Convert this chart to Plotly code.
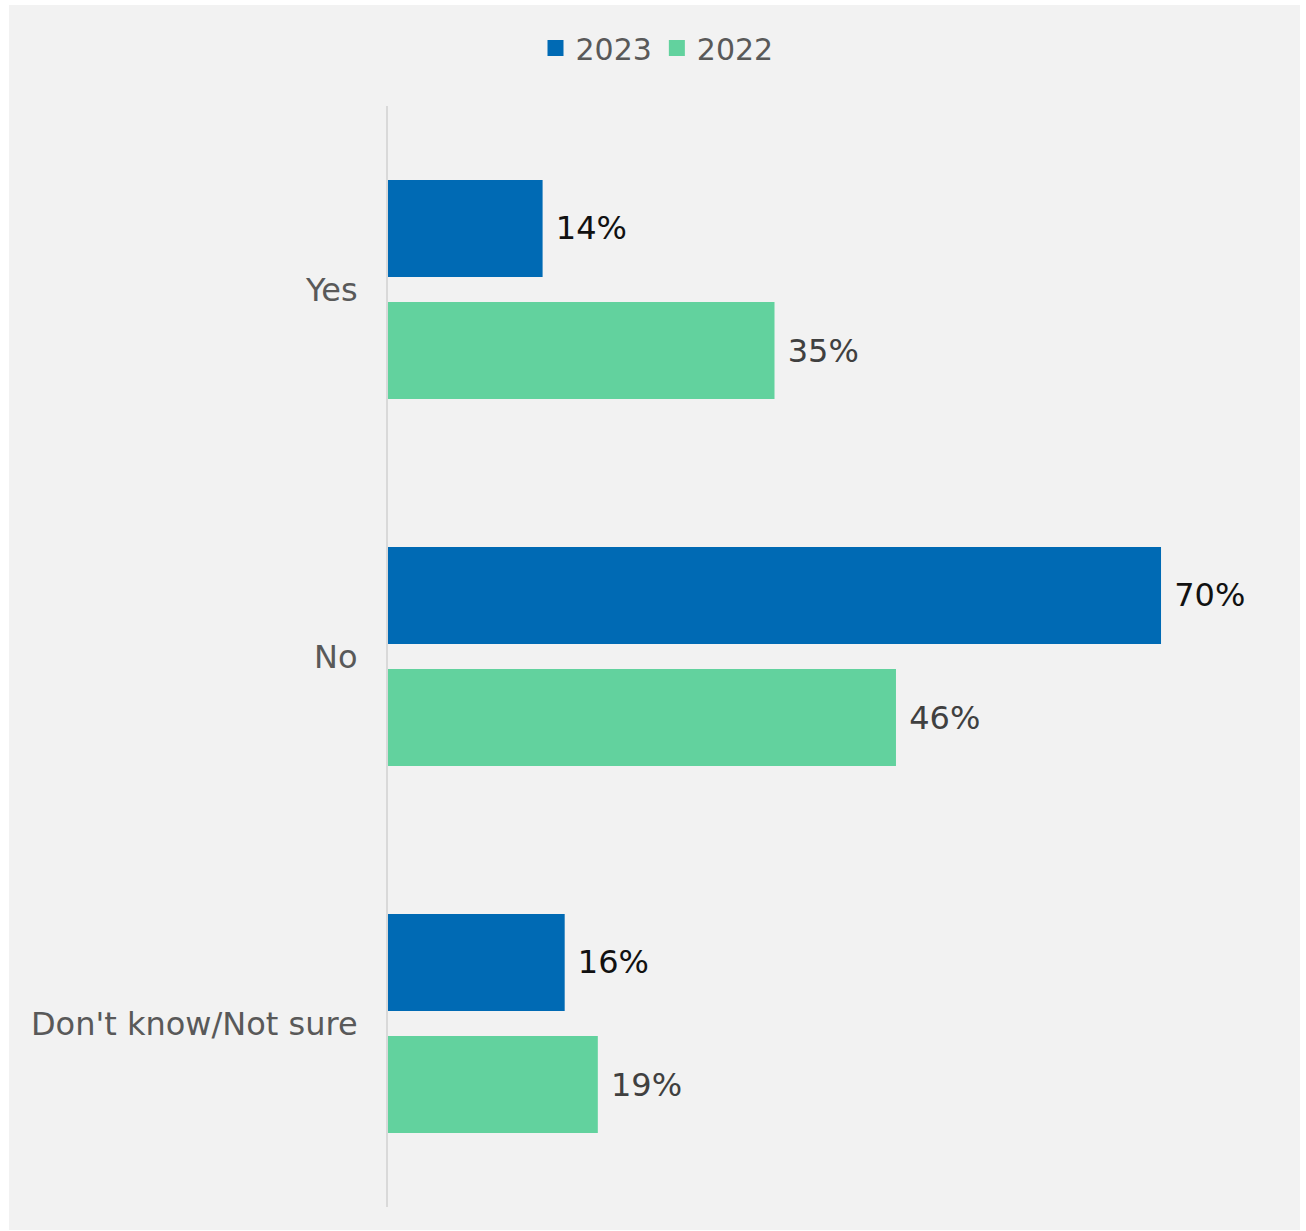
import plotly.graph_objects as go

# Survey answers and the share of respondents per year (in %)
categories = ["Yes", "No", "Don't know/Not sure"]
series_names = ["2023", "2022"]
values_2023 = [14, 70, 16]
values_2022 = [35, 46, 19]

bar_colors = {"2023": "#006ab4", "2022": "#62d29e"}
label_colors = {"2023": "#111111", "2022": "#404040"}

FONT = "DejaVu Sans"
W, H = 1306, 1231
M_L, M_R, M_T, M_B = 388, 34, 106, 24
plot_w = W - M_L - M_R
plot_h = H - M_T - M_B

fig = go.Figure()
for name, vals in zip(series_names, [values_2023, values_2022]):
    fig.add_trace(go.Bar(
        name=name,
        y=categories,
        x=vals,
        orientation="h",
        marker=dict(color=bar_colors[name], line=dict(width=0)),
        text=[f"{v}%" for v in vals],
        texttemplate="\u00a0%{text}",
        textposition="outside",
        constraintext="none",
        cliponaxis=False,
        textfont=dict(family=FONT, size=32, color=label_colors[name]),
        hoverinfo="skip",
        showlegend=False,
    ))

# legend keys: larger square swatches than the default bar icons
for name in series_names:
    fig.add_trace(go.Scatter(
        name=name,
        x=[None], y=[None],
        mode="markers",
        marker=dict(symbol="square", size=19, color=bar_colors[name]),
        hoverinfo="skip",
        showlegend=True,
    ))


def px_to_paper_x(px):
    return (px - M_L) / plot_w


def px_to_paper_y(py):
    return (H - M_B - py) / plot_h


# light grey card behind the chart
fig.add_shape(
    type="rect", xref="paper", yref="paper", layer="below",
    x0=px_to_paper_x(9), x1=px_to_paper_x(1300),
    y0=px_to_paper_y(1230), y1=px_to_paper_y(5),
    fillcolor="#f2f2f2", line=dict(width=0),
)

fig.update_layout(
    width=W, height=H,
    margin=dict(l=M_L, r=M_R, t=M_T, b=M_B, autoexpand=False),
    paper_bgcolor="#ffffff",
    plot_bgcolor="rgba(0,0,0,0)",
    barmode="group",
    bargap=0.335,
    bargroupgap=0.205,
    font=dict(family=FONT, size=32, color="#595959"),
    showlegend=True,
    legend=dict(
        orientation="h",
        x=px_to_paper_x(657), xanchor="center",
        y=px_to_paper_y(48), yanchor="middle",
        font=dict(family=FONT, size=30, color="#595959"),
        bgcolor="rgba(0,0,0,0)",
        traceorder="normal",
        itemsizing="trace",
        itemclick=False, itemdoubleclick=False,
    ),
    xaxis=dict(
        range=[0, 80.05],
        showgrid=False, zeroline=False, showline=False,
        showticklabels=False, ticks="",
    ),
    yaxis=dict(
        type="category",
        categoryorder="array", categoryarray=categories,
        autorange="reversed",
        showgrid=False, zeroline=False,
        showline=True, linecolor="#d9d9d9", linewidth=2,
        ticks="", ticklabelstandoff=22,
        tickfont=dict(family=FONT, size=32, color="#595959"),
    ),
)

fig.write_html("out.html")
